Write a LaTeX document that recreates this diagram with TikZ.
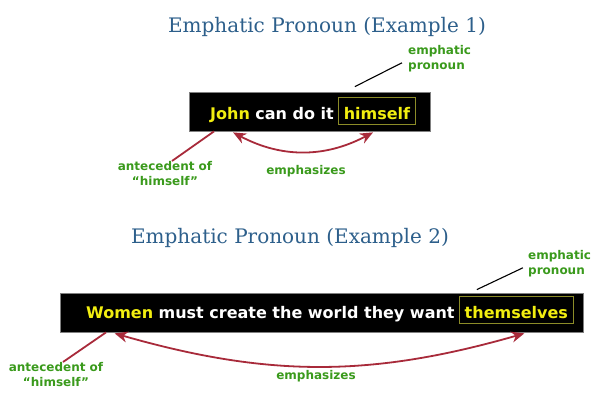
\documentclass[tikz,border=0pt]{standalone}
\usepackage{fontspec}
\usetikzlibrary{positioning,arrows.meta}
\newfontfamily\sentfont{DejaVu Sans}
\newfontfamily\headfont{DejaVu Serif}

\definecolor{titleblue}{HTML}{2D5F8B}
\definecolor{labgreen}{HTML}{3A9A1C}
\definecolor{hiyellow}{HTML}{F2EE10}
\definecolor{hiborder}{HTML}{8C8C28}
\definecolor{arrred}{HTML}{A82A3A}

\tikzset{
  titletext/.style={text=titleblue, font=\headfont\fontsize{20}{24}\selectfont, inner sep=0pt, anchor=base},
  sentbox/.style={fill=black, draw=gray, line width=0.8pt, inner sep=0pt},
  word/.style={text=white, font=\sentfont\bfseries\fontsize{16}{19}\selectfont, inner sep=0pt, anchor=base west},
  hiword/.style={word, text=hiyellow},
  hibox/.style={hiword, draw=hiborder, line width=0.8pt, inner xsep=5.5pt, inner ysep=5pt, text height=17pt, text depth=0pt},
  glabel/.style={text=labgreen, font=\sentfont\bfseries\fontsize{12}{15.5}\selectfont, inner sep=0pt},
  pointer/.style={black, line width=1.1pt},
  antline/.style={arrred, line width=1.8pt},
  emparrow/.style={arrred, line width=1.8pt, {Stealth[length=13pt,width=11pt]}-{Stealth[length=13pt,width=11pt]}}
}

\begin{document}
\begin{tikzpicture}[x=1pt, y=-1pt]
  \useasboundingbox (0,0) rectangle (600,410);

  % Example 1
  \node[titletext] (title1) at (327,32) {Emphatic Pronoun (Example 1)};
  \node[sentbox, minimum width=241pt, minimum height=39pt] (box1) at (310,111.5) {};
  \node[hiword] (john) at (210,119) {John};
  \node[word] (rest1) at ([xshift=5pt]john.base east) {can do it};
  \node[hibox] (him) at ([xshift=4pt]rest1.base east) {himself};

  \node[glabel, align=left, anchor=north west] (emph1) at (408,45) {emphatic\\pronoun};
  \node[glabel, align=center, anchor=north] (ant1) at (165,161) {antecedent of\\“himself”};
  \node[glabel] (emz1) at (306,171) {emphasizes};

  \coordinate (j1) at (john.west |- box1.south);  % foot of the antecedent line
  \coordinate (j2) at (john.south |- box1.south); % left arrow tip
  \coordinate (h1) at (him.south |- box1.south);  % right arrow tip

  \draw[pointer] ([xshift=17pt,yshift=10pt]him.north west) -- ([xshift=-6pt,yshift=-4pt]emph1.west);
  \draw[antline] ([xshift=4pt]j1) -- ([xshift=7pt]ant1.north);
  \draw[emparrow] ([xshift=3pt,yshift=-1pt]j2) to[bend right=28] ([xshift=-4pt,yshift=-1pt]h1);

  % Example 2
  \node[titletext] (title2) at (290,243) {Emphatic Pronoun (Example 2)};
  \node[sentbox, minimum width=523pt, minimum height=39pt] (box2) at (321.5,312.5) {};
  \node[hiword] (women) at (86,318) {Women};
  \node[word] (rest2) at ([xshift=5pt]women.base east) {must create the world they want};
  \node[hibox] (them) at ([xshift=4pt]rest2.base east) {themselves};

  \node[glabel, align=left, anchor=north west] (emph2) at (528,250) {emphatic\\pronoun};
  \node[glabel, align=center, anchor=north] (ant2) at (56,362) {antecedent of\\“himself”};
  \node[glabel] (emz2) at (316,376) {emphasizes};

  \coordinate (w1) at (women.west |- box2.south); % foot of the antecedent line
  \coordinate (w2) at (women.south |- box2.south);% left arrow tip
  \coordinate (t1) at (them.south |- box2.south); % right arrow tip

  \draw[pointer] ([xshift=18pt,yshift=6pt]them.north west) -- ([xshift=-5pt,yshift=-4pt]emph2.west);
  \draw[antline] ([xshift=20pt]w1) -- ([xshift=7pt]ant2.north);
  \draw[emparrow] ([xshift=-5pt,yshift=-1pt]w2) to[bend right=16] ([xshift=8pt,yshift=-1pt]t1);
\end{tikzpicture}
\end{document}
